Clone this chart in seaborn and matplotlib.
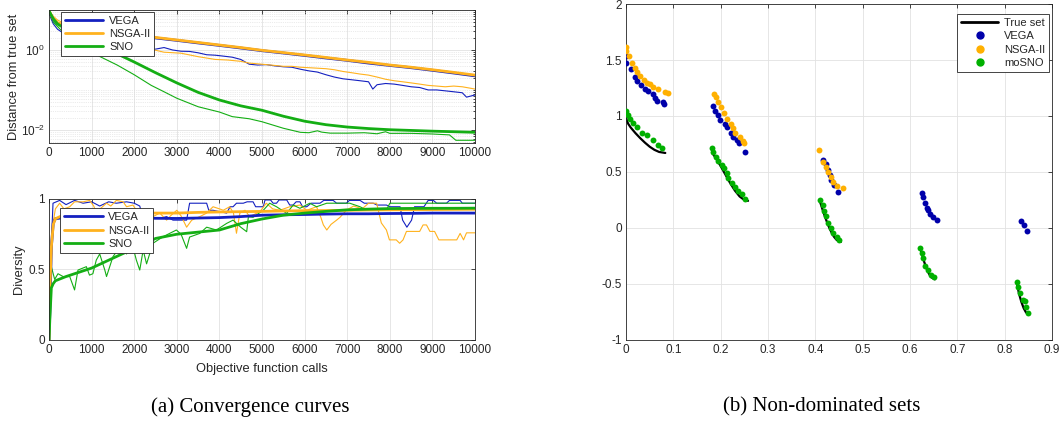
import matplotlib
matplotlib.use("Agg")
import numpy as np
import pandas as pd
import matplotlib.pyplot as plt
import seaborn as sns
from matplotlib.lines import Line2D
from matplotlib.ticker import FixedLocator, LogLocator, NullFormatter

# ---------------- data: convergence (distance from true set) ----------------
calls_mean = [0, 100, 200, 500, 1000, 1500, 2000, 2500, 3000, 3500, 4000, 4500, 5000,
              5500, 6000, 6500, 7000, 7500, 8000, 8500, 9000, 9500, 10000]
dist_nsga_mean = [9.5, 6.0, 4.8, 3.8, 3.15, 2.75, 2.38, 2.06, 1.78, 1.54, 1.33, 1.15, 0.98,
                  0.86, 0.75, 0.65, 0.56, 0.49, 0.42, 0.37, 0.32, 0.275, 0.235]
dist_vega_mean = [9.0, 5.8, 4.6, 3.7, 3.05, 2.68, 2.32, 2.0, 1.74, 1.50, 1.30, 1.12, 0.96,
                  0.84, 0.73, 0.63, 0.55, 0.47, 0.41, 0.36, 0.31, 0.265, 0.225]
dist_sno_mean = [9.5, 6.0, 4.5, 2.8, 1.5, 0.9, 0.5, 0.27, 0.15, 0.087, 0.056, 0.04, 0.031,
                 0.022, 0.0165, 0.0135, 0.0118, 0.0108, 0.0101, 0.0097, 0.0093, 0.009, 0.0087]

calls_vega_best = [0, 50, 100, 200, 300, 500, 700, 1000, 1300, 1600, 2000, 2300, 2500, 2700,
                   2900, 3100, 3300, 3500, 3700, 3900, 4100, 4300, 4500, 4700, 4900, 5100,
                   5300, 5500, 5700, 5900, 6100, 6300, 6500, 6700, 6900, 7100, 7300, 7500,
                   7600, 7700, 7900, 8100, 8300, 8500, 8700, 8900, 9100, 9300, 9500, 9700,
                   9800, 10000]
dist_vega_best = [9.0, 6.0, 4.5, 3.3, 2.8, 2.3, 2.0, 1.7, 1.4, 1.2, 1.0, 1.0, 1.05, 1.15,
                  1.0, 0.93, 0.92, 0.85, 0.76, 0.74, 0.70, 0.66, 0.58, 0.44, 0.42, 0.43,
                  0.40, 0.38, 0.37, 0.33, 0.30, 0.28, 0.24, 0.21, 0.19, 0.18, 0.17, 0.16,
                  0.105, 0.135, 0.145, 0.14, 0.13, 0.12, 0.115, 0.10, 0.10, 0.095, 0.09, 0.085,
                  0.066, 0.075]

calls_nsga_best = [0, 100, 200, 500, 1000, 1500, 2000, 2400, 2700, 3100, 3500, 3900, 4200,
                   4500, 4700, 4900, 5100, 5300, 5500, 5700, 5900, 6100, 6300, 6500, 6700,
                   6900, 7100, 7300, 7500, 7700, 7900, 8100, 8300, 8500, 8700, 8900, 9100,
                   9300, 9500, 9700, 9900, 10000]
dist_nsga_best = [9.5, 7.0, 5.6, 4.0, 2.5, 1.6, 1.15, 1.04, 0.88, 0.83, 0.68, 0.58, 0.56,
                  0.52, 0.47, 0.45, 0.43, 0.41, 0.39, 0.39, 0.37, 0.36, 0.35, 0.34, 0.32,
                  0.29, 0.27, 0.25, 0.235, 0.21, 0.185, 0.17, 0.16, 0.15, 0.14, 0.13, 0.125,
                  0.12, 0.125, 0.12, 0.11, 0.105]

calls_sno_best = [0, 100, 300, 600, 1000, 1200, 1600, 2000, 2400, 2700, 3000, 3500, 4000,
                  4300, 4700, 5000, 5500, 5900, 6100, 6300, 6400, 6600, 7000, 7400, 7700,
                  7900, 8000, 8500, 9000, 9400, 9550, 10000]
dist_sno_best = [9.0, 5.0, 3.0, 1.8, 0.95, 0.68, 0.42, 0.24, 0.13, 0.09, 0.062, 0.038, 0.028,
                 0.0215, 0.019, 0.016, 0.011, 0.0087, 0.0085, 0.0095, 0.0088, 0.0083, 0.0083,
                 0.0085, 0.0080, 0.0090, 0.0082, 0.0082, 0.0079, 0.0075, 0.0055, 0.0055]

# ---------------- data: diversity ----------------
calls_div_mean = [0, 20, 55, 100, 150, 400, 800, 1000, 1500, 2000, 2500, 3000, 3500, 4000,
                  4500, 5000, 5500, 6000, 6500, 7000, 7500, 8000, 8500, 9000, 9500, 10000]
div_vega_mean = [0, 0.2, 0.66, 0.83, 0.86, 0.87, 0.87, 0.868, 0.865, 0.865, 0.863, 0.862,
                 0.865, 0.868, 0.875, 0.885, 0.888, 0.89, 0.893, 0.895, 0.895, 0.897, 0.898,
                 0.9, 0.9, 0.9]
div_nsga_mean = [0, 0.35, 0.66, 0.82, 0.86, 0.895, 0.9, 0.9, 0.9, 0.9, 0.9, 0.9, 0.905,
                 0.908, 0.91, 0.912, 0.915, 0.917, 0.918, 0.92, 0.922, 0.923, 0.924, 0.925,
                 0.926, 0.927]
div_sno_mean = [0, 0.15, 0.37, 0.40, 0.42, 0.45, 0.49, 0.51, 0.58, 0.65, 0.72, 0.75, 0.765,
                0.78, 0.825, 0.858, 0.885, 0.9, 0.912, 0.923, 0.928, 0.932, 0.933, 0.934,
                0.934, 0.935]

calls_div_vega = [0, 30, 94, 250, 400, 600, 800, 1000, 1190, 1400, 1580, 1820, 2000, 2130,
                  2200, 2290, 2600, 2760, 2910, 3230, 3300, 3700, 3750, 3850, 4170, 4250,
                  4320, 4400, 4560, 4650, 4790, 4850, 5030, 5070, 5200, 5260, 5340, 5400,
                  5580, 5650, 5730, 5800, 5890, 5950, 6050, 6150, 6360, 6450, 6670, 6750,
                  6980, 7050, 7300, 7400, 7610, 7700, 7920, 8000, 8240, 8300, 8400, 8510,
                  8580, 8800, 8900, 9020, 9100, 9330, 9400, 9650, 9700, 10000]
div_vega_best = [0, 0.5, 0.97, 0.99, 0.96, 0.99, 0.97, 0.98, 0.95, 0.98, 0.97, 0.98, 0.97,
                 0.95, 0.87, 0.863, 0.863, 0.875, 0.85, 0.85, 0.97, 0.97, 0.92, 0.92, 0.9,
                 0.945, 0.945, 0.97, 0.97, 0.98, 0.98, 0.945, 0.945, 0.993, 0.993, 0.97,
                 0.97, 0.993, 0.993, 0.957, 0.957, 0.98, 0.98, 0.945, 0.945, 0.97, 0.97,
                 0.99, 0.99, 0.97, 0.97, 0.99, 0.99, 0.97, 0.97, 0.957, 0.957, 0.945, 0.945,
                 0.85, 0.80, 0.85, 0.945, 0.945, 0.99, 0.99, 0.97, 0.97, 0.99, 0.99, 0.97,
                 0.97]

calls_div_nsga = [0, 31, 94, 150, 250, 350, 486, 600, 800, 955, 1050, 1110, 1200, 1350,
                  1450, 1580, 1740, 1820, 1970, 2050, 2130, 2290, 2440, 2600, 2760, 2850,
                  3000, 3100, 3230, 3350, 3540, 3700, 3850, 4000, 4090, 4240, 4330, 4400,
                  4480, 4600, 4710, 4950, 5100, 5250, 5420, 5650, 5890, 6050, 6280, 6380,
                  6440, 6520, 6620, 6750, 6830, 6980, 7150, 7350, 7500, 7690, 7800, 7920,
                  7990, 8150, 8230, 8310, 8390, 8700, 8780, 8860, 8940, 9050, 9150, 9570,
                  9650, 9730, 9800, 10000]
div_nsga_best = [0, 0.42, 0.83, 0.93, 0.97, 0.93, 0.945, 0.98, 0.98, 0.99, 0.95, 0.9, 0.93,
                 0.97, 0.95, 0.99, 0.98, 0.945, 0.957, 0.92, 0.9, 0.9, 0.875, 0.9, 0.85,
                 0.88, 0.92, 0.88, 0.8, 0.85, 0.875, 0.9, 0.945, 0.93, 0.92, 0.945, 0.9,
                 0.757, 0.9, 0.92, 0.875, 0.91, 0.97, 0.93, 0.92, 0.945, 0.957, 0.92, 0.945,
                 0.87, 0.816, 0.78, 0.82, 0.85, 0.87, 0.92, 0.95, 0.93, 0.97, 0.97, 0.83,
                 0.78, 0.71, 0.71, 0.686, 0.71, 0.77, 0.77, 0.816, 0.816, 0.77, 0.77, 0.71,
                 0.71, 0.756, 0.71, 0.76, 0.76]

calls_div_sno = [0, 55, 133, 211, 330, 486, 600, 680, 877, 950, 1030, 1110, 1190, 1310,
                 1350, 1500, 1660, 1820, 1900, 1970, 2050, 2130, 2210, 2290, 2440, 2680,
                 2990, 3100, 3230, 3300, 3540, 3700, 3930, 4170, 4320, 4500, 4640, 4680,
                 4790, 5030, 5180, 5340, 5580, 5730, 5890, 6120, 6280, 6520, 7060, 7300,
                 7450, 7920, 8000, 8240, 9020, 9800, 10000]
div_sno_best = [0, 0.52, 0.43, 0.47, 0.45, 0.45, 0.355, 0.496, 0.52, 0.46, 0.47, 0.567,
                0.61, 0.496, 0.45, 0.59, 0.66, 0.61, 0.71, 0.66, 0.567, 0.496, 0.638, 0.54,
                0.686, 0.733, 0.78, 0.75, 0.65, 0.73, 0.756, 0.80, 0.78, 0.827, 0.85, 0.80,
                0.768, 0.874, 0.87, 0.92, 0.97, 0.945, 0.898, 0.957, 0.934, 0.97, 0.945,
                0.97, 0.97, 0.945, 0.922, 0.922, 0.97, 0.97, 0.97, 0.97, 0.97]

# ---------------- data: non-dominated sets ----------------
true_f1 = [0.0, 0.002, 0.005, 0.01, 0.02, 0.03, 0.04, 0.05, 0.06, 0.07, 0.083,
           0.1822, 0.19, 0.20, 0.21, 0.22, 0.23, 0.24, 0.25, 0.2578,
           0.4093, 0.415, 0.42, 0.425, 0.43, 0.435, 0.44, 0.445, 0.4539,
           0.621, 0.625, 0.63, 0.635, 0.64, 0.645, 0.6525,
           0.826, 0.83, 0.835, 0.84, 0.845, 0.8518]
true_f2 = [1.0, 0.955, 0.928, 0.897, 0.847, 0.8025, 0.762, 0.726, 0.698, 0.679, 0.670,
           0.670, 0.6228, 0.5528, 0.4768, 0.4016, 0.3343, 0.2819, 0.25, 0.2423,
           0.2423, 0.1674, 0.105, 0.0476, -0.0037, -0.0471, -0.0817, -0.1068, -0.1241,
           -0.175, -0.2325, -0.3034, -0.3627, -0.4086, -0.4404, -0.4583,
           -0.50, -0.5825, -0.6578, -0.7153, -0.7541, -0.7734]
true_seg = [1, 1, 1, 1, 1, 1, 1, 1, 1, 1, 1,
            2, 2, 2, 2, 2, 2, 2, 2, 2,
            3, 3, 3, 3, 3, 3, 3, 3, 3,
            4, 4, 4, 4, 4, 4, 4,
            5, 5, 5, 5, 5, 5]

vega_f1 = [0.0, 0.001, 0.01, 0.019, 0.024, 0.031, 0.040, 0.046, 0.056, 0.061, 0.066, 0.079, 0.081,
           0.183, 0.187, 0.195, 0.199, 0.209, 0.213, 0.221, 0.227, 0.234, 0.239, 0.251,
           0.417, 0.422, 0.427, 0.431, 0.434, 0.439, 0.448,
           0.625, 0.628, 0.632, 0.635, 0.638, 0.642, 0.648, 0.656,
           0.834, 0.841, 0.848]
vega_f2 = [1.536, 1.476, 1.417, 1.351, 1.315, 1.277, 1.241, 1.226, 1.196, 1.158, 1.137, 1.128, 1.104,
           1.089, 1.048, 1.009, 0.964, 0.929, 0.899, 0.845, 0.810, 0.786, 0.756, 0.682,
           0.607, 0.571, 0.518, 0.473, 0.429, 0.384, 0.319,
           0.315, 0.274, 0.226, 0.180, 0.161, 0.125, 0.101, 0.071,
           0.0625, 0.027, -0.024]

nsga_f1 = [0.0, 0.001, 0.007, 0.012, 0.019, 0.024, 0.030, 0.037, 0.044, 0.051, 0.058, 0.068, 0.082, 0.089,
           0.186, 0.190, 0.195, 0.200, 0.206, 0.214, 0.221, 0.225, 0.230, 0.241, 0.247, 0.249,
           0.408, 0.417, 0.422, 0.427, 0.432, 0.437, 0.445, 0.459]
nsga_f2 = [1.613, 1.583, 1.536, 1.476, 1.425, 1.395, 1.357, 1.321, 1.298, 1.286, 1.262, 1.241, 1.217, 1.202,
           1.196, 1.167, 1.128, 1.077, 1.030, 0.970, 0.929, 0.890, 0.845, 0.810, 0.780, 0.756,
           0.696, 0.592, 0.548, 0.503, 0.458, 0.413, 0.375, 0.354]

sno_f1 = [0.0, 0.005, 0.008, 0.015, 0.024, 0.033, 0.044, 0.058, 0.068, 0.077,
          0.181, 0.183, 0.190, 0.195, 0.202, 0.207, 0.213, 0.216, 0.223, 0.230, 0.237, 0.244, 0.251,
          0.410, 0.416, 0.418, 0.422, 0.427, 0.432, 0.437, 0.445, 0.450,
          0.620, 0.626, 0.628, 0.632, 0.637, 0.644, 0.651,
          0.827, 0.829, 0.832, 0.839, 0.843, 0.845, 0.850]
sno_f2 = [1.048, 1.009, 0.970, 0.940, 0.899, 0.851, 0.830, 0.786, 0.741, 0.711,
          0.711, 0.681, 0.637, 0.601, 0.562, 0.533, 0.488, 0.444, 0.399, 0.369, 0.333, 0.304, 0.259,
          0.25, 0.205, 0.154, 0.107, 0.042, -0.003, -0.048, -0.083, -0.107,
          -0.176, -0.226, -0.271, -0.339, -0.375, -0.420, -0.435,
          -0.479, -0.524, -0.584, -0.643, -0.649, -0.708, -0.756]

# ---------------- style ----------------
C_VEGA = "#1420C0"
C_NSGA = "#FFB21E"
C_SNO = "#14AE14"
S_VEGA = "#0000AA"
S_NSGA = "#FFB000"
S_SNO = "#00B000"
TXT = "#262626"

sns.set_theme(style="white")
plt.rcParams["font.family"] = ["Liberation Sans", "DejaVu Sans"]
plt.rcParams["axes.unicode_minus"] = False
plt.rcParams["mathtext.fontset"] = "custom"
plt.rcParams["mathtext.rm"] = "Liberation Sans"
plt.rcParams["mathtext.it"] = "Liberation Sans:italic"

fig = plt.figure(figsize=(10.63, 4.26), dpi=100)
ax1 = fig.add_axes([0.0461, 0.6643, 0.4008, 0.3122])
ax2 = fig.add_axes([0.0461, 0.2019, 0.4008, 0.3310])
ax3 = fig.add_axes([0.5889, 0.2019, 0.4008, 0.7887])


def style(ax):
    for s in ax.spines.values():
        s.set_color(TXT)
        s.set_linewidth(0.6)
    ax.tick_params(which="both", direction="in", colors=TXT, labelsize=8.5,
                   top=True, right=True, width=0.6, pad=3)
    ax.tick_params(which="major", length=3)
    ax.tick_params(which="minor", length=1.5)
    ax.grid(True, which="major", color="#E2E2E2", lw=0.6)
    ax.set_axisbelow(True)


THIN = 0.8
THICK = 2.0

# ---- top-left: distance ----
for xs, ys, c in [(calls_vega_best, dist_vega_best, C_VEGA),
                  (calls_nsga_best, dist_nsga_best, C_NSGA),
                  (calls_sno_best, dist_sno_best, C_SNO)]:
    sns.lineplot(x=xs, y=ys, ax=ax1, color=c, lw=THIN, estimator=None, sort=False, legend=False)
for xs, ys, c in [(calls_mean, dist_vega_mean, C_VEGA),
                  (calls_mean, dist_nsga_mean, C_NSGA),
                  (calls_mean, dist_sno_mean, C_SNO)]:
    sns.lineplot(x=xs, y=ys, ax=ax1, color=c, lw=THICK, estimator=None, sort=False, legend=False)

ax1.set_yscale("log")
ax1.set_ylim(0.0047, 10)
ax1.set_xlim(0, 10000)
ax1.set_xticks(np.arange(0, 10001, 1000))
ax1.yaxis.set_major_locator(FixedLocator([1e-2, 1e0]))
ax1.yaxis.set_minor_locator(LogLocator(base=10, subs=np.arange(1, 10), numticks=30))
ax1.yaxis.set_minor_formatter(NullFormatter())
style(ax1)
ax1.grid(True, which="minor", axis="y", color="#D8D8D8", lw=0.5, ls=":")
ax1.set_xlabel("")
ax1.set_ylabel("Distance from true set", fontsize=9.3, color=TXT)
ax1.yaxis.set_label_coords(-0.068, 0.5)

handles = [Line2D([], [], color=C_VEGA, lw=THICK),
           Line2D([], [], color=C_NSGA, lw=THICK),
           Line2D([], [], color=C_SNO, lw=THICK)]
labels = ["VEGA", "NSGA-II", "SNO"]
leg1 = ax1.legend(handles, labels, loc="upper left", bbox_to_anchor=(0.0275, 0.987),
                  borderaxespad=0, frameon=True, fancybox=False, edgecolor=TXT, framealpha=1,
                  fontsize=8, handlelength=3.5, labelspacing=0.3, borderpad=0.35,
                  handletextpad=0.5)
leg1.get_frame().set_linewidth(0.6)

# ---- bottom-left: diversity ----
for xs, ys, c in [(calls_div_vega, div_vega_best, C_VEGA),
                  (calls_div_nsga, div_nsga_best, C_NSGA),
                  (calls_div_sno, div_sno_best, C_SNO)]:
    sns.lineplot(x=xs, y=ys, ax=ax2, color=c, lw=THIN, estimator=None, sort=False, legend=False)
for xs, ys, c in [(calls_div_mean, div_vega_mean, C_VEGA),
                  (calls_div_mean, div_nsga_mean, C_NSGA),
                  (calls_div_mean, div_sno_mean, C_SNO)]:
    sns.lineplot(x=xs, y=ys, ax=ax2, color=c, lw=THICK, estimator=None, sort=False, legend=False)

ax2.set_ylim(0, 1)
ax2.set_xlim(0, 10000)
ax2.set_xticks(np.arange(0, 10001, 1000))
ax2.set_yticks([0, 0.5, 1])
ax2.set_yticklabels(["0", "0.5", "1"])
style(ax2)
ax2.set_xlabel("Objective function calls", fontsize=9.3, color=TXT)
ax2.xaxis.set_label_coords(0.5, -0.163)
ax2.set_ylabel("Diversity", fontsize=9.3, color=TXT)
ax2.yaxis.set_label_coords(-0.056, 0.5)
leg2 = ax2.legend(handles, labels, loc="upper left", bbox_to_anchor=(0.026, 0.934),
                  borderaxespad=0, frameon=True, fancybox=False, edgecolor=TXT, framealpha=1,
                  fontsize=8, handlelength=3.5, labelspacing=0.3, borderpad=0.35,
                  handletextpad=0.5)
leg2.get_frame().set_linewidth(0.6)

# ---- right: non-dominated sets ----
true_df = pd.DataFrame({"f1": true_f1, "f2": true_f2, "seg": true_seg})
sns.lineplot(data=true_df, x="f1", y="f2", units="seg", estimator=None, sort=False,
             ax=ax3, color="black", lw=1.6, legend=False)
sns.scatterplot(x=vega_f1, y=vega_f2, ax=ax3, color=S_VEGA, s=18, linewidth=0, legend=False, zorder=3)
sns.scatterplot(x=nsga_f1, y=nsga_f2, ax=ax3, color=S_NSGA, s=18, linewidth=0, legend=False, zorder=3)
sns.scatterplot(x=sno_f1, y=sno_f2, ax=ax3, color=S_SNO, s=18, linewidth=0, legend=False, zorder=3)

ax3.set_xlim(0, 0.9)
ax3.set_ylim(-1, 2)
xt = [0, 0.1, 0.2, 0.3, 0.4, 0.5, 0.6, 0.7, 0.8, 0.9]
ax3.set_xticks(xt)
ax3.set_xticklabels(["0", "0.1", "0.2", "0.3", "0.4", "0.5", "0.6", "0.7", "0.8", "0.9"])
yt = [-1, -0.5, 0, 0.5, 1, 1.5, 2]
ax3.set_yticks(yt)
ax3.set_yticklabels(["-1", "-0.5", "0", "0.5", "1", "1.5", "2"])
style(ax3)
ax3.set_xlabel("")
ax3.set_ylabel("")
h3 = [Line2D([], [], color="black", lw=2.0),
      Line2D([], [], ls="", marker="o", ms=5, color=S_VEGA),
      Line2D([], [], ls="", marker="o", ms=5, color=S_NSGA),
      Line2D([], [], ls="", marker="o", ms=5, color=S_SNO)]
leg3 = ax3.legend(h3, ["True set", "VEGA", "NSGA-II", "moSNO"], loc="upper right",
                  bbox_to_anchor=(0.993, 0.970), borderaxespad=0, frameon=True, fancybox=False,
                  edgecolor=TXT, framealpha=1, fontsize=8, handlelength=3.4,
                  labelspacing=0.3, borderpad=0.35, handletextpad=0.5)
leg3.get_frame().set_linewidth(0.6)

# ---- captions ----
fig.text(0.235, 0.045, "(a) Convergence curves", ha="center", va="center",
         family=["Liberation Serif", "DejaVu Serif"], fontsize=15, color="black")
fig.text(0.773, 0.045, "(b) Non-dominated sets", ha="center", va="center",
         family=["Liberation Serif", "DejaVu Serif"], fontsize=15, color="black")

fig.savefig("out.png", dpi=100)
